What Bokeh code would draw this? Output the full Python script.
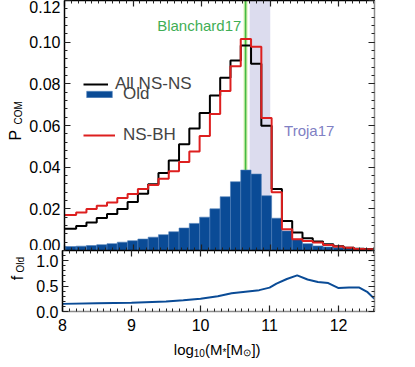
import numpy as np
from bokeh.plotting import figure
from bokeh.models import (Range1d, LinearAxis, Legend, LegendItem, Label,
                          PrintfTickFormatter, SingleIntervalTicker, BoxAnnotation,
                          CustomJSTickFormatter)
from bokeh.layouts import column, row
from bokeh.core.properties import value
from bokeh.embed import file_html
from bokeh.resources import INLINE

FONT = "Liberation Sans"

# ---- data -------------------------------------------------------------
bin_left = [7.87, 8.02, 8.17, 8.32, 8.47, 8.62, 8.77, 8.92, 9.07, 9.22, 9.37,
            9.52, 9.67, 9.82, 9.97, 10.12, 10.27, 10.42, 10.57, 10.72, 10.87,
            11.02, 11.17, 11.32, 11.47, 11.62, 11.77, 11.92, 12.07, 12.22, 12.37]
bin_right = [8.02, 8.17, 8.32, 8.47, 8.62, 8.77, 8.92, 9.07, 9.22, 9.37, 9.52,
             9.67, 9.82, 9.97, 10.12, 10.27, 10.42, 10.57, 10.72, 10.87, 11.02,
             11.17, 11.32, 11.47, 11.62, 11.77, 11.92, 12.07, 12.22, 12.37, 12.52]

p_all_nsns = [0.0105, 0.0105, 0.0118, 0.0134, 0.0156, 0.0175, 0.0199, 0.0233,
              0.0272, 0.0318, 0.0372, 0.0432, 0.0510, 0.0586, 0.0660, 0.0744,
              0.0829, 0.0912, 0.0984, 0.0896, 0.0599, 0.0295, 0.0142, 0.0086,
              0.0059, 0.0043, 0.0030, 0.0021, 0.0013, 0.0009, 0.0007]
p_nsbh = [0.0170, 0.0170, 0.0182, 0.0199, 0.0215, 0.0231, 0.0252, 0.0271,
          0.0295, 0.0315, 0.0345, 0.0380, 0.0425, 0.0475, 0.0550, 0.0655,
          0.0766, 0.0884, 0.1015, 0.0978, 0.0636, 0.0280, 0.0102, 0.0054,
          0.0046, 0.0038, 0.0027, 0.0019, 0.0013, 0.0007, 0.0006]
p_old = [0.0019, 0.0019, 0.0021, 0.0024, 0.0028, 0.0033, 0.0040, 0.0047,
         0.0055, 0.0064, 0.0076, 0.0090, 0.0108, 0.0130, 0.0160, 0.0200,
         0.0258, 0.0330, 0.0386, 0.0367, 0.0263, 0.0155, 0.0094, 0.0054,
         0.0033, 0.0022, 0.0017, 0.0013, 0.0008, 0.0004, 0.0002]

f_old_mass = [8.0, 8.5, 9.0, 9.5, 9.75, 10.0, 10.25, 10.45, 10.65, 10.85, 11.0,
              11.1, 11.25, 11.4, 11.55, 11.7, 11.85, 12.0, 12.15, 12.3, 12.42, 12.52]
f_old = [0.15, 0.16, 0.17, 0.195, 0.22, 0.25, 0.30, 0.36, 0.39, 0.42, 0.47,
         0.55, 0.64, 0.71, 0.63, 0.58, 0.56, 0.46, 0.47, 0.47, 0.38, 0.25]

blanchard17 = 10.64
troja17_lo, troja17_hi = 10.70, 11.00

x_lo, x_hi = 8.0, 12.52

STRIP = 26
BORDER_L = 62 - STRIP

# ---- style helpers ----------------------------------------------------
def px2x(px):
    return x_lo + (px - 62.0) / 312.0 * (x_hi - x_lo)

def style_axis(ax, labels=True, line_color="black", size="16px"):
    ax.major_tick_in = 6
    ax.major_tick_out = 0
    ax.minor_tick_in = 3
    ax.minor_tick_out = 0
    ax.axis_line_color = line_color
    ax.axis_line_width = 1.5
    ax.major_tick_line_color = "#222222"
    ax.minor_tick_line_color = "#222222"
    ax.major_tick_line_width = 1.2
    ax.minor_tick_line_width = 1
    ax.axis_label = None
    ax.axis_label_standoff = 0
    ax.major_label_text_font = FONT
    ax.major_label_text_color = "black"
    if labels:
        ax.major_label_text_font_size = size
    else:
        ax.formatter = CustomJSTickFormatter(code="return ''")
        ax.major_label_text_font_size = "0px"
        ax.major_label_standoff = 0

def blank_fig(w, h, xr, yr):
    f = figure(width=w, height=h, output_backend="svg", toolbar_location=None,
               x_range=xr, y_range=yr, x_axis_location=None,
               y_axis_location=None, min_border=0)
    f.outline_line_color = None
    f.grid.visible = False
    return f

# ---- main panel -------------------------------------------------------
p1 = figure(width=415 - STRIP, height=250, output_backend="svg",
            toolbar_location=None,
            x_range=Range1d(x_lo, x_hi), y_range=Range1d(0.0, 0.12),
            x_axis_location=None, y_axis_location=None,
            min_border_left=BORDER_L, min_border_right=41, min_border_top=0,
            min_border_bottom=0)
p1.outline_line_color = None
p1.grid.visible = False

yt = SingleIntervalTicker(interval=0.02, num_minor_ticks=5)
xt = SingleIntervalTicker(interval=1, num_minor_ticks=10)

ax_l = LinearAxis(ticker=yt, formatter=PrintfTickFormatter(format="%.2f"))
style_axis(ax_l, True, "black")
ax_l.major_label_standoff = 4
p1.add_layout(ax_l, "left")
ax_r = LinearAxis(ticker=yt)
style_axis(ax_r, False, "#8c8c8c")
p1.add_layout(ax_r, "right")
ax_t = LinearAxis(ticker=xt)
style_axis(ax_t, False, "black")
p1.add_layout(ax_t, "above")
ax_b = LinearAxis(ticker=xt)
style_axis(ax_b, False, "black")
p1.add_layout(ax_b, "below")

# Troja17 band and Blanchard17 line
p1.add_layout(BoxAnnotation(left=troja17_lo, right=troja17_hi,
                            fill_color="#dcdcee", fill_alpha=1.0,
                            line_color=None, level="underlay"))
p1.segment(x0=[blanchard17], x1=[blanchard17], y0=[0], y1=[0.12],
           line_color="#d8efb0", line_width=4)
p1.segment(x0=[blanchard17], x1=[blanchard17], y0=[0], y1=[0.12],
           line_color="#44bb44", line_width=1.6)

r_old = p1.quad(left=bin_left, right=bin_right, top=p_old, bottom=0,
                fill_color="#0a4b96", line_color="#4d7db8", line_width=0.6)

step_x = bin_left + [bin_right[-1]]
r_all = p1.step(x=step_x, y=p_all_nsns + [p_all_nsns[-1]], mode="after",
                line_color="black", line_width=2)
r_bh = p1.step(x=step_x, y=p_nsbh + [p_nsbh[-1]], mode="after",
               line_color="#dd1f1f", line_width=2)

def add_leg(item, renderer, vy, gw, standoff):
    lg = Legend(items=[LegendItem(label=item, renderers=[renderer])],
                location=(19, vy), border_line_color=None,
                background_fill_alpha=0, padding=0, margin=0, spacing=0,
                glyph_width=gw, glyph_height=8, label_height=12,
                label_standoff=standoff, label_text_font=FONT,
                label_text_font_size="17px")
    p1.add_layout(lg)

add_leg("All NS-NS", r_all, 156, 25, 7)
add_leg("Old", r_old, 146, 32, 8)
add_leg("NS-BH", r_bh, 105, 32, 8)

p1.add_layout(Label(x=px2x(240), y=0.108, text="Blanchard17",
                    text_align="right", text_baseline="middle",
                    text_font=FONT, text_font_size="15px",
                    text_color="#3fae55"))
p1.add_layout(Label(x=px2x(283), y=0.0575, text="Troja17",
                    text_align="left", text_baseline="middle",
                    text_font=FONT, text_font_size="15px",
                    text_color="#8080c4"))

# y title strip for the main panel: P_COM
yl1 = blank_fig(STRIP, 250, Range1d(0, STRIP), Range1d(250, 0))
yl1.text(x=[15], y=[140], text=["P"], angle=np.pi / 2,
         text_font=value(FONT), text_font_size="16px", text_color="black",
         text_align="left", text_baseline="alphabetic")
yl1.text(x=[17.5], y=[124], text=["COM"], angle=np.pi / 2,
         text_font=value(FONT), text_font_size="10px", text_color="black",
         text_align="left", text_baseline="alphabetic")

# ---- bottom panel -----------------------------------------------------
p2 = figure(width=415 - STRIP, height=86, output_backend="svg",
            toolbar_location=None,
            x_range=p1.x_range, y_range=Range1d(0.0, 1.2),
            x_axis_location=None, y_axis_location=None,
            min_border_left=BORDER_L, min_border_right=41, min_border_top=0,
            min_border_bottom=25)
p2.outline_line_color = None
p2.grid.visible = False

yt2 = SingleIntervalTicker(interval=0.5, num_minor_ticks=5)
xt2 = SingleIntervalTicker(interval=1, num_minor_ticks=10)
b_l = LinearAxis(ticker=yt2, formatter=PrintfTickFormatter(format="%.1f"))
style_axis(b_l, True, "black")
b_l.major_label_standoff = 4
p2.add_layout(b_l, "left")
b_r = LinearAxis(ticker=yt2)
style_axis(b_r, False, "#8c8c8c")
p2.add_layout(b_r, "right")
b_t = LinearAxis(ticker=xt2)
style_axis(b_t, False, "black")
p2.add_layout(b_t, "above")
b_b = LinearAxis(ticker=xt2, formatter=PrintfTickFormatter(format="%d"))
style_axis(b_b, True, "#8c8c8c")
b_b.major_label_standoff = 7
p2.add_layout(b_b, "below")

p2.line(f_old_mass, f_old, line_color="#0a4b96", line_width=2)

# y title strip for the bottom panel: f_Old
yl2 = blank_fig(STRIP, 86, Range1d(0, STRIP), Range1d(336, 250))
yl2.text(x=[17], y=[292], text=["f"], angle=np.pi / 2,
         text_font=value(FONT), text_font_size="16px", text_color="black",
         text_align="left", text_baseline="alphabetic")
yl2.text(x=[19.5], y=[281], text=["Old"], angle=np.pi / 2,
         text_font=value(FONT), text_font_size="10px", text_color="black",
         text_align="left", text_baseline="alphabetic")

# x title strip: log10(M*[Msun])
xtl = blank_fig(415, 31, Range1d(0, 415), Range1d(367, 336))
xt_text = ["log", "10", "(M", "*", "[M", "\u2299", "])"]
xt_px = [173.3, 193.3, 204.4, 221.9, 225.8, 242.5, 250.9]
xt_py = [349, 352, 349, 352, 349, 352, 349]
xt_fs = ["15px", "10px", "15px", "10px", "15px", "10px", "15px"]
for t, px, py, fs in zip(xt_text, xt_px, xt_py, xt_fs):
    xtl.text(x=[px], y=[py], text=[t], text_font=value(FONT),
             text_font_size=fs, text_color="black",
             text_align="left", text_baseline="alphabetic")

layout = column(row(yl1, p1), row(yl2, p2), xtl)

open("out.html", "w").write(file_html(layout, INLINE))
